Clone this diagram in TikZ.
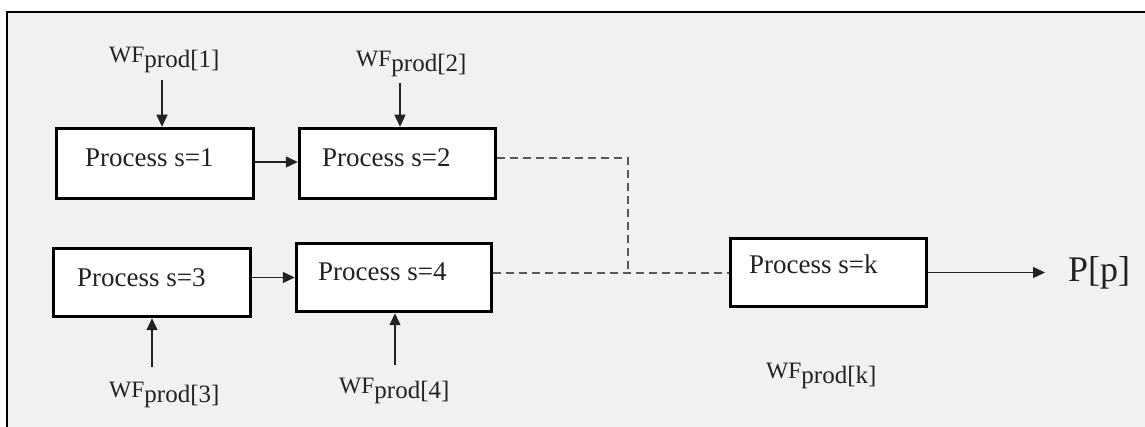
\documentclass[tikz,border=0pt]{standalone}
\usepackage{fontspec}
\setmainfont{Liberation Serif}
\usetikzlibrary{arrows.meta,calc}
\definecolor{bg}{HTML}{F1F1F1}
\definecolor{ink}{HTML}{222222}
\begin{document}
\begin{tikzpicture}[x=1pt,y=-1pt,
  box/.style={draw=black,line width=3.5pt,fill=white,inner sep=0pt},
  arr/.style={draw=ink,line width=1.4pt,-{Triangle[length=12pt,width=11pt]}},
  dsh/.style={line width=1.6pt,draw=black!65,dash pattern=on 8pt off 5pt},
  ptxt/.style={anchor=base west,inner sep=0pt,font=\fontsize{27}{30}\selectfont,text=ink},
  wf/.style={anchor=base west,inner sep=0pt,font=\fontsize{23.5}{26}\selectfont,text=ink}]
\newcommand{\wfsub}[1]{WF\raisebox{-5pt}{\fontsize{25}{26}\selectfont prod[#1]}}
\useasboundingbox (0,0) rectangle (1145,427);
\fill[white] (0,0) rectangle (1145,427);
\fill[bg] (7,12) rectangle (1145,427);
\draw[line width=2pt,black] (7,427) -- (7,12) -- (1145,12);
% boxes
\node[box,minimum width=197pt,minimum height=70pt] (b1) at (155,163.5) {};
\node[box,minimum width=196pt,minimum height=70pt] (b2) at (397.5,163.5) {};
\node[box,minimum width=197pt,minimum height=68pt] (b3) at (152,282.5) {};
\node[box,minimum width=195pt,minimum height=68pt] (b4) at (394,277.5) {};
\node[box,minimum width=196pt,minimum height=68pt] (bk) at (828.5,272.5) {};
% box texts
\node[ptxt] (t1) at (85,167) {Process s=1};
\node[ptxt] (t2) at (322,167) {Process s=2};
\node[ptxt] (t3) at (77,287) {Process s=3};
\node[ptxt] (t4) at (318,281) {Process s=4};
\node[ptxt] (tk) at (749,274) {Process s=k};
% WF labels
\node[wf] (w1) at (109,63) {\wfsub{1}};
\node[wf] (w2) at (356,67) {\wfsub{2}};
\node[wf] (w3) at (109,397) {\wfsub{3}};
\node[wf] (w4) at (339,393) {\wfsub{4}};
\node[wf] (wk) at (766,378) {\wfsub{k}};
% output
\node[anchor=base west,inner sep=0pt,font=\fontsize{36}{40}\selectfont,text=ink] (pp) at (1068,282) {P[p]};
% arrow start points
\coordinate (a1) at (162,80);
\coordinate (a2) at (400,83);
\coordinate (a3) at (152,367);
\coordinate (a4) at (395,365);
\coordinate (pend) at (1045,272.5);
\coordinate (jn) at (628,273);
\draw[arr] (a1) -- (a1 |- b1.north);
\draw[arr] (a2) -- (a2 |- b2.north);
\draw[arr] (a3) -- (a3 |- b3.south);
\draw[arr] (a4) -- (a4 |- b4.south);
\draw[arr] ($(b1.east)+(0,-1.5)$) -- ($(b2.west)+(0,-1.5)$);
\draw[arr] (b3.east |- b4.west) -- (b4.west);
\draw[arr] (bk.east) -- (pend);
% dashed
\draw[dsh] ($(b2.east)+(0,-5.5)$) -| (jn);
\draw[dsh] ($(b4.east)+(0,-4.5)$) -- (bk.west |- jn);
\end{tikzpicture}
\end{document}
